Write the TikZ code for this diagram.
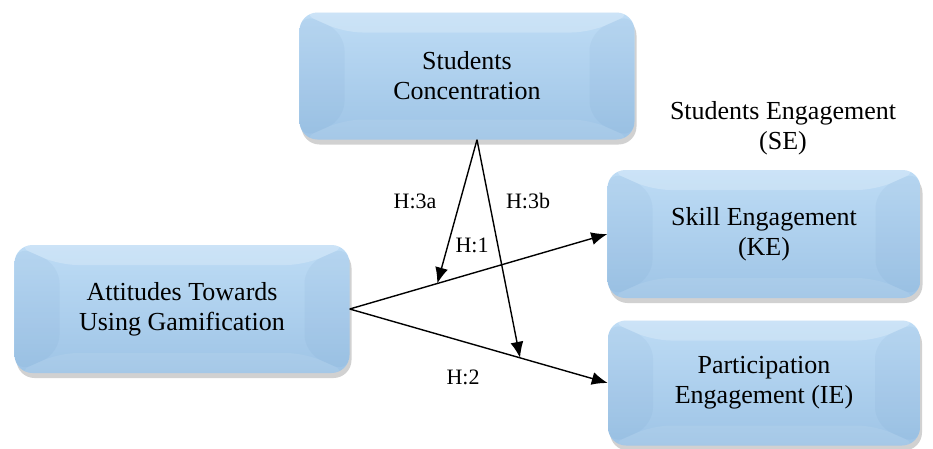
\documentclass[tikz,border=0pt]{standalone}
\usepackage{fontspec}
\setmainfont{Liberation Serif}
\usetikzlibrary{arrows.meta,shadows}

\definecolor{boxtop}{RGB}{190,220,245}
\definecolor{boxbot}{RGB}{158,196,230}
\definecolor{boxdark}{RGB}{96,140,190}

\tikzset{
	bevelbox/.style={rounded corners=18pt, top color=boxtop, bottom color=boxbot,
		align=center, font=\fontsize{26}{30}\selectfont,
		drop shadow={shadow xshift=2pt, shadow yshift=-5pt, opacity=.3, fill=black!60},
		path picture={
			\coordinate (pnw) at (path picture bounding box.north west);
			\coordinate (pne) at (path picture bounding box.north east);
			\coordinate (psw) at (path picture bounding box.south west);
			\coordinate (pse) at (path picture bounding box.south east);
			\fill[white,opacity=.22] (pnw) -- (pne) -- ([xshift=-45pt,yshift=-20pt]pne) -- ([xshift=45pt,yshift=-20pt]pnw) -- cycle;
			\fill[boxdark,opacity=.08] (pnw) -- ([xshift=45pt,yshift=-20pt]pnw) -- ([xshift=45pt,yshift=20pt]psw) -- (psw) -- cycle;
			\fill[boxdark,opacity=.08] (pne) -- ([xshift=-45pt,yshift=-20pt]pne) -- ([xshift=-45pt,yshift=20pt]pse) -- (pse) -- cycle;
			\fill[white,opacity=.08] (psw) -- (pse) -- ([xshift=-45pt,yshift=20pt]pse) -- ([xshift=45pt,yshift=20pt]psw) -- cycle;
		}},
	hyp/.style={-{Latex[length=16pt,width=13pt]}, line width=1.4pt},
	hlabel/.style={font=\fontsize{22}{26}\selectfont}
}

\begin{document}
\begin{tikzpicture}[x=1pt,y=-1pt]
	\useasboundingbox (0,0) rectangle (933,448);

	\node[bevelbox, minimum width=335pt, minimum height=127pt] (sc) at (467,76) {Students\\Concentration};
	\node[bevelbox, minimum width=335pt, minimum height=128pt] (atg) at (182,309) {Attitudes Towards\\Using Gamification};
	\node[bevelbox, minimum width=313pt, minimum height=128pt] (ke) at (764,234) {Skill Engagement\\(KE)};
	\node[bevelbox, minimum width=312pt, minimum height=125pt] (ie) at (764,383) {Participation\\Engagement (IE)};
	\node[align=center, font=\fontsize{26}{30}\selectfont] (se) at (783,128) {Students Engagement\\(SE)};

	% main paths
	\draw[hyp] (atg.east) -- coordinate[pos=.34] (h1a) (ke.west);
	\draw[hyp] (atg.east) -- coordinate[pos=.66] (h2b) (ie.west);
	% moderation
	\draw[hyp] ([xshift=10pt]sc.south) -- (h1a);
	\draw[hyp] ([xshift=10pt]sc.south) -- (h2b);

	\node[hlabel] (l3a) at (415,201) {H:3a};
	\node[hlabel] (l3b) at (528,201) {H:3b};
	\node[hlabel] (l1) at (472,245) {H:1};
	\node[hlabel] (l2) at (463,377) {H:2};
\end{tikzpicture}
\end{document}
